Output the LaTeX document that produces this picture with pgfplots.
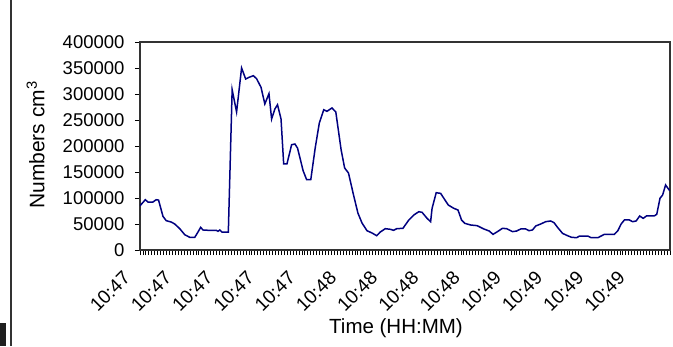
\documentclass[border=0pt]{standalone}
\usepackage{pgfplots}
\pgfplotsset{compat=1.18}
\usepackage{fontspec}
\setmainfont{Liberation Sans}
\definecolor{navyline}{HTML}{000080}
\begin{document}
\begin{tikzpicture}[x=1pt,y=1pt]
\useasboundingbox (0,0) rectangle (673,346);
\fill[black!88] (0,0) rectangle (6,23);
\draw[line width=2pt, black!80] (11,0) -- (11,346);
\begin{axis}[
  at={(140pt,96pt)}, anchor=south west,
  scale only axis, width=530pt, height=208pt,
  xmin=0, xmax=180, ymin=0, ymax=400000,
  axis line style={line width=1.3pt, black!80},
  ytick={0,50000,100000,150000,200000,250000,300000,350000,400000},
  xtick={0,14,...,168},
  xticklabels={10:47,10:47,10:47,10:47,10:47,10:48,10:48,10:48,10:48,10:49,10:49,10:49,10:49},
  minor xtick={0,1,...,180},
  tick align=outside, xtick pos=bottom, ytick pos=left,
  major tick length=5pt, minor tick length=5pt,
  tick style={black, line width=0.8pt},
  /pgf/number format/.cd, fixed, precision=0, 1000 sep={}, assume math mode=true,
  /pgfplots/.cd,
  yticklabel style={font=\fontsize{18.5}{18.5}\selectfont, xshift=-7pt},
  xticklabel style={font=\fontsize{19}{19}\selectfont, xshift=-18pt, yshift=-10pt, rotate=45, anchor=north east},
  scaled y ticks=false,
  ylabel={Numbers cm\textsuperscript{3}},
  ylabel style={font=\fontsize{21}{21}\selectfont, at={(axis description cs:-0.197,0.505)}, anchor=center},
  xlabel={Time (HH:MM)},
  xlabel style={font=\fontsize{20.5}{20.5}\selectfont, at={(axis description cs:0.483,-0.375)}, anchor=center},
]
\addplot[navyline, line width=1.5pt] coordinates {
(0,85000) (1.8,96700) (2.7,92300) (4.4,92300) (5.5,96700) (6.3,96000)
(7.8,64800) (8.9,56400) (10.6,53800) (11.8,50000) (13.5,41000) (15.2,29400)
(16.9,24400) (18.6,24400) (19.7,34600) (20.6,43600) (21.4,38500) (23.1,37900)
(25.9,37900) (26.5,35900) (27.1,38500) (27.8,34600) (30.0,34600)
(31.3,308300) (32.8,265400) (34.5,350000) (35.9,328800) (37.0,332000)
(38.5,335200) (39.6,329400) (41.1,312900) (42.4,280800) (43.8,300600)
(44.7,251900) (45.8,271100) (46.7,279400) (47.9,251900) (48.8,165400)
(49.9,165400) (51.5,202500) (52.6,203800) (53.5,196100) (55.4,152500)
(56.6,135200) (58.0,135200) (59.5,196100) (60.9,244200) (62.4,269800)
(63.5,266700) (65.2,273100) (66.5,265400) (68.3,192900) (69.5,157700)
(70.8,148100) (72.5,106300) (74.0,71200) (75.4,51900) (77.1,37100)
(78.8,32700) (80.4,27500) (81.6,34600) (83.3,41000) (85.0,39800)
(86.1,37900) (87.2,41000) (89.3,41700) (91.3,57700) (93.0,67300)
(94.7,73700) (95.8,72400) (97.5,60900) (98.7,54400) (99.2,80100)
(100.6,110200) (102.1,108900) (103.2,99400) (104.7,86500) (106.6,80100)
(108.0,76900) (109.2,57700) (110.3,51300) (111.1,50000) (112.3,48100)
(114.5,46800) (116.8,40400) (118.6,36500) (119.9,30100) (121.4,35300)
(123.1,41700) (124.5,41000) (126.5,35300) (127.9,36500) (129.3,40400)
(131.0,40400) (132.1,37200) (133.3,38500) (134.4,46200) (136.1,50000)
(137.8,54500) (139.5,55800) (140.6,52600) (141.8,43600) (143.5,32000)
(145.2,27500) (146.6,24400) (148.3,23700) (149.3,26900) (152.1,26900)
(153.2,23700) (155.5,23700) (156.6,26900) (157.7,30100) (161.1,30100)
(162.3,37200) (163.4,50000) (164.5,57700) (166.2,57700) (167.3,54500)
(168.5,55800) (169.7,65400) (170.9,60900) (172.0,65400) (174.6,65400)
(175.5,68600) (176.6,99400) (177.5,105800) (178.5,125000) (179.9,114000)
};
\end{axis}
\end{tikzpicture}
\end{document}
